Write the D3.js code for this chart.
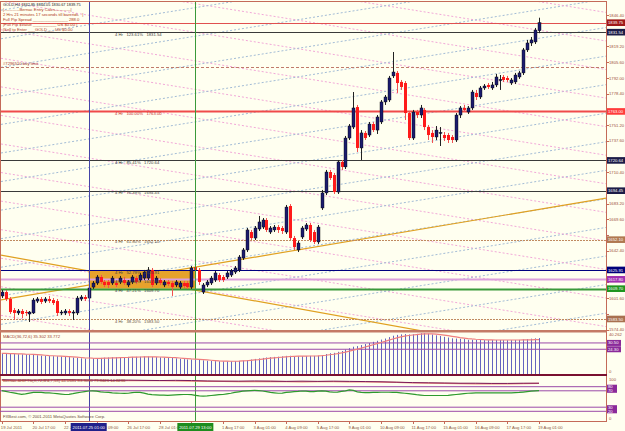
<!DOCTYPE html>
<html>
<head>
<meta charset="utf-8">
<script src="https://cdn.jsdelivr.net/npm/d3@7"></script>
<style>
body { margin: 0; background: #fffff0; }
svg { display: block; font-family: "Liberation Sans", Arial, sans-serif; }
text { font-size: 4.2px; }
</style>
</head>
<body>
<div id="chart"></div>
<script>
// GOLD H4 candles
const barOpen = [1603.4,1606.8,1600.8,1591.2,1588.7,1590.4,1589.5,1587.8,1588.7,1599.0,
1600.8,1599.0,1600.8,1599.9,1599.0,1588.7,1588.7,1590.4,1588.7,1588.7,
1600.8,1602.5,1601.6,1611.1,1614.6,1619.8,1615.5,1615.5,1614.6,1614.6,
1615.5,1617.2,1612.9,1615.5,1618.9,1617.2,1618.9,1618.9,1625.9,1614.6,
1617.2,1612.9,1615.5,1614.6,1612.9,1611.1,1614.6,1614.6,1611.1,1628.4,
1625.9,1606.8,1612.9,1614.6,1617.2,1621.5,1619.8,1619.8,1621.5,1624.1,
1625.9,1636.2,1643.2,1658.7,1653.5,1661.3,1663.0,1669.1,1658.7,1660.5,
1663.0,1662.2,1658.7,1681.2,1653.5,1643.2,1654.4,1661.3,1664.8,1658.7,
1650.1,1679.5,1692.5,1710.6,1708.0,1693.3,1719.3,1715.0,1740.0,1749.5,
1766.8,1731.4,1744.4,1742.6,1752.1,1746.9,1753.9,1771.2,1772.9,1793.7,
1796.3,1788.5,1787.6,1761.6,1740.0,1762.5,1759.9,1764.3,1749.5,1744.4,
1740.9,1744.4,1742.6,1742.6,1740.9,1738.3,1759.9,1766.0,1762.5,1766.0,
1779.0,1775.5,1783.3,1785.9,1783.3,1785.9,1790.2,1792.8,1791.9,1787.6,
1788.5,1792.8,1796.3,1816.2,1822.2,1823.1,1832.85];
const barHigh = [1608.5,1608.5,1602.5,1593.0,1592.1,1592.1,1591.2,1590.4,1601.6,1602.5,
1602.5,1602.5,1603.4,1601.6,1600.8,1591.2,1592.1,1592.1,1591.2,1603.4,
1604.2,1604.2,1612.0,1616.3,1621.5,1621.5,1617.2,1617.2,1620.7,1616.3,
1620.7,1619.8,1617.2,1621.5,1620.7,1623.3,1625.9,1628.4,1627.6,1620.7,
1618.9,1617.2,1617.2,1616.3,1617.2,1616.3,1616.3,1616.3,1629.3,1631.0,
1627.6,1614.6,1617.2,1620.7,1625.0,1623.3,1621.5,1625.0,1626.7,1629.3,
1638.8,1644.9,1662.2,1660.5,1663.9,1672.6,1670.8,1670.8,1663.9,1664.8,
1664.8,1663.9,1682.1,1682.9,1655.3,1650.9,1663.9,1666.5,1666.5,1660.5,
1664.8,1695.1,1712.4,1712.4,1709.8,1721.0,1721.0,1741.8,1752.1,1779.8,
1768.6,1746.9,1746.1,1753.9,1753.9,1759.9,1772.9,1777.2,1793.7,1814.4,
1798.0,1790.2,1789.3,1763.4,1764.3,1764.3,1768.6,1766.0,1751.3,1746.9,
1750.4,1749.5,1745.2,1744.4,1742.6,1761.6,1767.7,1768.6,1767.7,1781.6,
1781.6,1785.0,1786.7,1787.6,1788.5,1795.4,1794.5,1794.5,1793.7,1791.9,
1796.3,1798.0,1817.9,1824.8,1827.4,1835.2,1844.05];
const barLow = [1601.6,1599.0,1587.8,1582.6,1586.9,1584.3,1586.1,1580.9,1587.8,1597.3,
1596.4,1597.3,1597.3,1595.6,1586.1,1586.9,1586.9,1586.1,1582.6,1586.9,
1599.0,1599.0,1599.9,1609.4,1612.9,1613.7,1611.1,1610.3,1612.9,1611.1,
1613.7,1612.9,1611.1,1613.7,1613.7,1615.5,1617.2,1617.2,1611.1,1612.9,
1612.9,1611.1,1612.0,1603.4,1611.1,1609.4,1610.3,1609.4,1609.4,1624.1,
1612.9,1605.1,1611.1,1612.9,1615.5,1615.5,1615.5,1618.1,1619.8,1622.4,
1624.1,1634.5,1641.4,1651.8,1651.8,1659.6,1661.3,1658.7,1657.0,1658.7,
1657.9,1657.0,1657.0,1651.8,1643.2,1641.4,1652.7,1659.6,1650.1,1648.3,
1648.3,1677.8,1690.7,1703.7,1691.6,1691.6,1712.4,1713.2,1738.3,1747.8,
1727.9,1721.0,1738.3,1740.9,1745.2,1743.5,1752.1,1768.6,1771.2,1791.9,
1779.0,1781.6,1755.6,1738.3,1738.3,1757.3,1757.3,1746.9,1738.3,1735.7,
1738.3,1733.1,1737.4,1735.7,1735.7,1736.6,1757.3,1762.5,1760.8,1764.3,
1772.9,1773.8,1781.6,1782.4,1781.6,1784.1,1781.6,1788.5,1788.5,1785.9,
1786.7,1791.1,1794.5,1814.4,1819.6,1821.3,1830.67];
const barClose = [1606.8,1600.8,1589.5,1588.7,1590.4,1587.8,1588.7,1589.5,1599.9,1600.8,
1598.2,1600.8,1599.0,1597.3,1588.7,1589.5,1590.4,1588.7,1589.5,1601.6,
1602.5,1600.8,1610.3,1614.6,1619.8,1615.5,1612.9,1612.9,1618.9,1612.9,
1618.9,1614.6,1615.5,1619.8,1615.5,1621.5,1624.1,1625.9,1612.9,1618.9,
1614.6,1615.5,1613.7,1611.1,1615.5,1614.6,1612.0,1611.1,1627.6,1625.9,
1615.5,1612.9,1615.5,1618.9,1623.3,1617.2,1617.2,1623.3,1625.0,1627.6,
1637.1,1643.2,1660.5,1653.5,1662.2,1667.4,1669.1,1660.5,1662.2,1663.0,
1660.5,1659.6,1680.3,1653.5,1645.7,1649.2,1662.2,1664.8,1651.8,1650.1,
1663.0,1692.5,1710.6,1705.4,1693.3,1719.3,1715.0,1740.0,1750.4,1766.0,
1731.4,1744.4,1740.0,1752.1,1746.9,1758.2,1771.2,1775.5,1791.9,1797.1,
1787.6,1784.1,1761.6,1740.0,1762.5,1759.9,1766.0,1749.5,1742.6,1740.9,
1746.9,1744.8,1740.0,1738.3,1738.3,1759.9,1766.0,1764.3,1766.0,1779.8,
1775.5,1783.3,1785.0,1784.1,1785.9,1792.8,1790.6,1790.2,1790.2,1790.2,
1794.5,1796.3,1816.2,1822.2,1824.8,1833.4,1839.75];

// MACD(36,72,6): main drawn as histogram, signal as line
const macdMain = [20.2,20.0,19.8,19.6,19.4,19.3,19.2,19.0,18.8,18.4,
18.0,17.8,17.6,17.5,17.4,17.2,17.0,16.6,16.2,15.8,
15.4,15.2,15.2,15.4,15.6,15.8,16.0,16.2,16.4,16.5,
16.6,16.7,16.8,16.8,16.9,17.0,17.2,17.1,16.8,16.6,
16.4,16.2,16.0,15.7,15.4,15.0,14.6,14.3,14.2,14.4,
14.0,13.4,13.0,12.8,12.6,12.5,12.4,12.4,12.5,12.6,
12.8,13.1,13.6,14.2,14.8,15.3,15.8,16.2,16.5,16.8,
17.0,17.3,17.8,17.9,17.6,17.4,17.5,17.7,17.8,17.8,
17.9,18.6,19.6,20.4,20.8,21.8,22.6,24.0,25.4,26.8,
27.4,28.4,29.4,30.4,31.6,32.6,33.8,34.8,36.2,37.6,
38.4,38.9,39.2,38.8,39.0,39.4,40.0,40.1,39.6,38.8,
38.0,37.3,36.5,35.8,35.0,34.8,34.6,34.3,33.6,33.6,
33.4,33.4,33.3,33.2,33.3,33.4,33.4,33.3,33.2,33.3,
33.4,33.5,33.9,34.3,34.7,35.0,35.3];
const macdSignal = [20.3,20.2,20.1,20.0,19.8,19.7,19.5,19.4,19.2,19.0,
18.7,18.4,18.1,17.9,17.7,17.5,17.3,17.1,16.8,16.5,
16.2,15.9,15.7,15.5,15.4,15.4,15.5,15.6,15.8,15.9,
16.1,16.2,16.3,16.5,16.6,16.7,16.8,16.9,16.9,16.8,
16.7,16.6,16.4,16.2,16.0,15.7,15.4,15.1,14.8,14.6,
14.4,14.1,13.8,13.5,13.2,12.9,12.7,12.6,12.5,12.5,
12.6,12.8,13.0,13.4,13.8,14.2,14.7,15.1,15.5,15.9,
16.2,16.5,16.9,17.2,17.4,17.5,17.5,17.6,17.7,17.7,
17.8,18.0,18.4,18.9,19.4,20.0,20.7,21.5,22.4,23.4,
24.4,25.4,26.5,27.6,28.7,29.8,30.9,32.0,33.2,34.4,
35.5,36.4,37.2,37.8,38.3,38.7,39.1,39.4,39.5,39.4,
39.1,38.7,38.2,37.6,37.0,36.4,35.8,35.3,34.8,34.4,
34.1,33.9,33.7,33.6,33.5,33.4,33.4,33.4,33.4,33.4,
33.4,33.4,33.5,33.5,33.6,33.7,33.77];
const macdLevels = [30.5, 24.3];

// second window (0..100 oscillator)
const shiftGreen = [70.5,68.5,66.5,65.0,63.0,61.5,62.5,64.5,66.0,66.5,
66.0,65.0,65.0,64.0,63.0,62.0,61.0,61.5,63.0,65.0,
66.5,68.0,69.5,70.0,69.0,67.5,66.5,66.0,65.0,64.5,
64.0,63.5,64.0,65.5,66.5,66.0,64.5,62.0,60.5,60.0,
59.5,59.5,59.0,59.5,60.0,60.5,61.0,61.0,60.5,59.0,
57.5,57.0,57.5,58.5,59.5,60.5,61.0,62.5,64.0,66.0,
67.5,69.0,70.0,70.5,71.0,70.5,69.5,68.0,66.0,65.0,
64.0,64.5,66.0,67.0,68.0,68.5,69.5,69.0,68.0,68.0,
69.0,70.0,69.0,67.5,66.5,67.0,68.5,70.0,72.0,71.0,
67.5,66.0,65.5,65.5,66.0,66.0,66.5,66.5,66.5,66.0,
66.0,65.0,64.0,63.0,62.0,60.5,59.5,58.5,58.5,58.5,
58.5,58.5,58.5,59.0,60.0,61.0,62.0,63.0,64.0,64.5,
65.0,65.0,65.0,65.0,65.0,65.0,65.0,65.0,65.0,65.0,
65.5,66.0,67.0,68.0,69.0,70.0,70.5];
const shiftBars = [0,4,8,12,16,20,24,28,32,36,40,44,48,52,56,60,64,68,72,76,80,84,88,92,96,100,104,108,112,116,120,124,128,132,136];
const shiftRed = [95.5,95.0,95.5,96.0,96.0,95.5,95.5,95.0,95.0,95.0,94.5,94.0,93.5,93.0,93.0,92.5,92.5,93.0,92.5,92.0,92.5,92.5,92.0,91.5,91.0,90.5,89.5,88.5,88.0,87.5,87.0,87.5,87.0,87.5,88.0];
const shiftPurple = [97.0,96.5,96.0,96.5,97.0,96.5,96.0,95.5,96.0,95.5,95.0,95.5,95.0,94.0,93.5,93.5,94.0,93.5,93.0,93.5,93.0,93.5,93.0,92.5,92.0,91.0,90.0,89.5,89.0,88.5,88.5,88.0,88.0,88.5,88.5];
const shiftLevels = [80, 70, 30, 20];

// axis labels
const priceTicks = [1846.40,1832.80,1819.20,1805.60,1792.00,1778.40,1764.80,1751.20,1737.60,1724.00,1710.40,1696.80,1683.20,1669.60,1656.00,1642.40,1628.80,1615.20,1601.60,1588.00,1574.40];
const dateBars = [0,8,16,24,32,40,48,56,64,72,80,88,96,104,112,120,128,136];
const dateText = ["19 Jul 2011","20 Jul 17:00","22 Jul 01:00","25 Jul 09:00","26 Jul 17:00","28 Jul 01:00","29 Jul 09:00","1 Aug 17:00","3 Aug 01:00","4 Aug 09:00","5 Aug 17:00","9 Aug 01:00","10 Aug 09:00","11 Aug 17:00","15 Aug 01:00","16 Aug 09:00","17 Aug 17:00","19 Aug 01:00"];

// chart objects
const levelPrices = [1839.75, 1831.54, 1801.40, 1763.00, 1720.64, 1694.45, 1652.10, 1625.91, 1617.80, 1609.70, 1583.50];
const levelText = ["", "4 Hr   123.61%   1831.54", "#7296510 buy limit", "4 Hr   100.00%   1763.00", "4 Hr   85.41%   1720.64", "4 Hr   76.39%   1694.45", "4 Hr   61.80%   1652.10", "4 Hr   52.79%   1625.91", "4 Hr   50.00%   1617.80", "4 Hr   47.21%   1609.70", "4 Hr   38.20%   1583.50"];
const vlineBars = [22, 49];
const vlineText = ["2011.07.25 01:00", "2011.07.29 13:00"];
const trendBars = [[0, 136], [0, 100]];
const trendPrices = [[1600.2, 1678.3], [1638.6, 1577.1]];
const gannBar = 152.7;
const gannBlue = 1736.6;
const gannPink = 1725.3;
const gannStep = 24.7;
const gannSlope = 0.547;
const infoLines = ["|-----------Bernac Entry Calcs-----------|", "2 Hrs 21 minutes 17 seconds till barends   |", "Full Pip Spread _______________ 288.0", "|Full Pip $Value __________ US $0.00 |", "|Sell to Enter ___GOLD___ US $0.00"];

// styles for the objects above (same order as levelPrices)
const levelColor = ["#e05050", "#3a3a3a", "#c07a6a", "#f04a4a", "#3a3a3a", "#3a3a3a", "#c08a60", "#000080", "#dca0dc", "#3a9a3a", "#c08a60"];
const levelWidth = [1, 1, 1, 2, 1, 1, 1, 1, 2, 2, 1];
const levelDash = [null, null, "3,2", null, null, null, "2,1", null, null, null, "2,1"];
const labelColor = ["", "#404040", "#a83a2a", "#c03030", "#404040", "#404040", "#6a5040", "#404040", "#404040", "#404040", "#6a5040"];
const boxFill = ["#a01818", "#1c1c48", null, "#ff3b3b", "#1c1c48", "#1c1c48", "#b07850", "#00007a", "#a030b0", "#1e951e", "#a87050"];
const vlineColor = ["#4444a8", "#3a9a3a"];
const vboxFill = ["#20208a", "#1e8c1e"];

let w = 625;
let h = 431;
let plotL = 1;
let plotR = 606;

const svg = d3.select("#chart").
append("svg").
attr("width", w).
attr("height", h);

svg.append("rect").attr("width", w).attr("height", h).attr("fill", "#fffff0");

const defs = svg.append("defs");
defs.append("clipPath").attr("id", "mainClip").
append("rect").attr("x", plotL).attr("y", 1).attr("width", plotR - plotL).attr("height", 329);

// scales for all three windows
const xScale = d3.scaleLinear().domain([0, 136]).range([1.8, 539]);
const yPrice = d3.scaleLinear().domain([1574.4, 1846.4]).range([329.5, 15]);
const yMacd = d3.scaleLinear().domain([0, 40.262]).range([374, 333]);
const yOsc = d3.scaleLinear().domain([0, 100]).range([419.5, 378.5]);

const main = svg.append("g").attr("clip-path", "url(#mainClip)");

// gann style dotted grid
let b0 = xScale.invert(plotL);
let b1 = xScale.invert(plotR);
for (let n = -25; n <= 25; n++) {
  main.append("line").
  attr("x1", xScale(b0)).attr("y1", yPrice(gannBlue + n * gannStep + gannSlope * (b0 - gannBar))).
  attr("x2", xScale(b1)).attr("y2", yPrice(gannBlue + n * gannStep + gannSlope * (b1 - gannBar))).
  attr("stroke", "#a3bcd6").attr("stroke-width", 1).attr("stroke-dasharray", "2,2");
  main.append("line").
  attr("x1", xScale(b0)).attr("y1", yPrice(gannPink + n * gannStep - gannSlope * (b0 - gannBar))).
  attr("x2", xScale(b1)).attr("y2", yPrice(gannPink + n * gannStep - gannSlope * (b1 - gannBar))).
  attr("stroke", "#f2a8d8").attr("stroke-width", 1).attr("stroke-dasharray", "2,2");
}

// trend lines (rays both ways)
trendBars.forEach((tb, k) => {
  let tp = trendPrices[k];
  let slope = (tp[1] - tp[0]) / (tb[1] - tb[0]);
  main.append("line").
  attr("x1", xScale(b0)).attr("y1", yPrice(tp[0] + slope * (b0 - tb[0]))).
  attr("x2", xScale(b1)).attr("y2", yPrice(tp[0] + slope * (b1 - tb[0]))).
  attr("stroke", "#e0a020").attr("stroke-width", 1.2);
});

// the orange box between the two vertical lines
main.append("rect").
attr("x", xScale(vlineBars[0])).
attr("y", yPrice(levelPrices[7])).
attr("width", xScale(vlineBars[1]) - xScale(vlineBars[0])).
attr("height", yPrice(levelPrices[9]) - yPrice(levelPrices[7])).
attr("fill", "#e6a22c");

// horizontal levels
levelPrices.forEach((p, k) => {
  main.append("line").
  attr("x1", plotL).attr("x2", plotR).
  attr("y1", Math.round(yPrice(p)) + 0.5).attr("y2", Math.round(yPrice(p)) + 0.5).
  attr("stroke", levelColor[k]).
  attr("stroke-width", levelWidth[k]).
  attr("stroke-dasharray", levelDash[k]);
});

// vertical lines through every window
vlineBars.forEach((b, k) => {
  svg.append("line").
  attr("x1", Math.round(xScale(b)) + 0.5).attr("x2", Math.round(xScale(b)) + 0.5).
  attr("y1", 1).attr("y2", 421).
  attr("stroke", vlineColor[k]).attr("stroke-width", 1);
});

// candles
let idx = d3.range(barOpen.length);
main.selectAll(".wick").
data(idx).
enter().
append("line").
attr("class", "wick").
attr("x1", i => Math.round(xScale(i)) + 0.5).
attr("x2", i => Math.round(xScale(i)) + 0.5).
attr("y1", i => yPrice(barHigh[i])).
attr("y2", i => yPrice(barLow[i])).
attr("stroke", i => barClose[i] >= barOpen[i] ? "#222" : "#f05050").
attr("stroke-width", 1);

main.selectAll(".body").
data(idx).
enter().
append("rect").
attr("class", "body").
attr("x", i => Math.round(xScale(i)) - 1).
attr("width", 3).
attr("y", i => yPrice(Math.max(barOpen[i], barClose[i]))).
attr("height", i => Math.max(1, Math.abs(yPrice(barOpen[i]) - yPrice(barClose[i])))).
attr("fill", i => barClose[i] >= barOpen[i] ? "#1b1b6e" : "#ff1a1a").
attr("stroke", i => barClose[i] >= barOpen[i] ? "#000" : "none").
attr("stroke-width", 0.4);

// labels of the levels
levelText.forEach((t, k) => {
  if (t === "") return;
  svg.append("text").
  attr("x", k === 2 ? 3 : 115).
  attr("y", yPrice(levelPrices[k]) + (k === 2 ? -2 : 3.6)).
  attr("fill", labelColor[k]).
  attr("xml:space", "preserve").
  text(t);
});

// info panel at top left
svg.append("text").attr("x", 3).attr("y", 5.5).attr("fill", "#202020").style("font-size", "3.9px").text("GOLD,H4  1832.85 1844.05 1830.67 1839.75");
infoLines.forEach((t, k) => {
  svg.append("text").
  attr("x", 3).attr("y", 11 + k * 5.1).
  attr("fill", "#b03a20").
  attr("xml:space", "preserve").
  text(t);
});

// frames and panel separators
svg.append("line").attr("x1", plotR + 0.5).attr("x2", plotR + 0.5).attr("y1", 1).attr("y2", 422).attr("stroke", "#c46a58").attr("stroke-width", 1);
svg.append("line").attr("x1", 0).attr("x2", plotR).attr("y1", 1.5).attr("y2", 1.5).attr("stroke", "#c46a58");
svg.append("line").attr("x1", 0.5).attr("x2", 0.5).attr("y1", 1).attr("y2", 421).attr("stroke", "#c46a58");
svg.append("rect").attr("x", 0).attr("y", 330).attr("width", plotR + 1).attr("height", 2.5).attr("fill", "#c47a66");
svg.append("rect").attr("x", 0).attr("y", 374).attr("width", plotR + 1).attr("height", 2).attr("fill", "#7a1030");
svg.append("line").attr("x1", 0).attr("x2", plotR + 1).attr("y1", 421.5).attr("y2", 421.5).attr("stroke", "#c46a58");

// price axis: plain ticks, hidden where a boxed level label sits
let boxYs = levelPrices.filter((p, k) => boxFill[k]).map(p => yPrice(p));
let shownTicks = priceTicks.filter(t => boxYs.every(y => Math.abs(yPrice(t) - y) > 6));
svg.selectAll(".ptick").
data(shownTicks).
enter().
append("text").
attr("class", "ptick").
attr("x", 609).
attr("y", d => yPrice(d) + 1.6).
attr("fill", "#a0503c").
text(d => d.toFixed(2));
svg.selectAll(".pmark").
data(priceTicks).
enter().
append("line").
attr("x1", plotR).attr("x2", plotR + 3).
attr("y1", d => Math.round(yPrice(d)) + 0.5).attr("y2", d => Math.round(yPrice(d)) + 0.5).
attr("stroke", "#c46a58");

levelPrices.forEach((p, k) => {
  if (!boxFill[k]) return;
  svg.append("rect").attr("x", plotR + 1).attr("y", yPrice(p) - 3.3).attr("width", 18).attr("height", 6.6).attr("fill", boxFill[k]);
  svg.append("text").attr("x", plotR + 2).attr("y", yPrice(p) + 1.6).attr("fill", "#fff").text(p.toFixed(2));
});

// MACD window
svg.selectAll(".hist").
data(idx).
enter().
append("line").
attr("class", "hist").
attr("x1", i => Math.round(xScale(i)) + 0.5).
attr("x2", i => Math.round(xScale(i)) + 0.5).
attr("y1", yMacd(0)).
attr("y2", i => yMacd(macdMain[i])).
attr("stroke", "#6464bf").
attr("stroke-width", 1);

macdLevels.forEach(v => {
  svg.append("line").attr("x1", 0).attr("x2", plotR).attr("y1", yMacd(v)).attr("y2", yMacd(v)).attr("stroke", "#9b4aa8").attr("stroke-width", 1);
  svg.append("rect").attr("x", plotR + 1).attr("y", yMacd(v) - 3).attr("width", 14).attr("height", 6).attr("fill", "#8a2a9a");
  svg.append("text").attr("x", plotR + 2).attr("y", yMacd(v) + 1.5).attr("fill", "#fff").text(v.toFixed(2));
});

svg.append("path").
datum(idx).
attr("fill", "none").
attr("stroke", "#f07f7f").
attr("stroke-width", 1.2).
attr("d", d3.line().x(i => xScale(i)).y(i => yMacd(macdSignal[i])));

svg.append("text").attr("x", 3).attr("y", 338).attr("fill", "#9a4030").text("MACD(36,72,6) 35.302 33.772");
svg.append("text").attr("x", 609).attr("y", 336).attr("fill", "#a0503c").text("40.262");
svg.append("text").attr("x", 609).attr("y", 373).attr("fill", "#a0503c").text("0");

// second window
shiftLevels.forEach(v => {
  svg.append("line").attr("x1", 0).attr("x2", plotR).attr("y1", yOsc(v)).attr("y2", yOsc(v)).attr("stroke", "#9b4aa8").attr("stroke-width", 1);
});
[[shiftLevels[0], shiftLevels[1]], [shiftLevels[2], shiftLevels[3]]].forEach(pair => {
  svg.append("rect").attr("x", plotR + 1).attr("y", yOsc(pair[0]) - 2).attr("width", 10).attr("height", yOsc(pair[1]) - yOsc(pair[0]) + 4).attr("fill", "#8a2a9a");
  svg.append("text").attr("x", plotR + 2).attr("y", yOsc(pair[0]) + 1.5).attr("fill", "#fff").text(pair[0]);
  svg.append("text").attr("x", plotR + 2).attr("y", yOsc(pair[1]) + 1.5).attr("fill", "#fff").text(pair[1]);
});

svg.append("path").
datum(shiftBars.map((b, k) => [b, shiftRed[k]])).
attr("fill", "none").attr("stroke", "#f08a7a").attr("stroke-width", 1.2).
attr("d", d3.line().x(d => xScale(d[0])).y(d => yOsc(d[1])));
svg.append("path").
datum(shiftBars.map((b, k) => [b, shiftPurple[k]])).
attr("fill", "none").attr("stroke", "#7a1a5a").attr("stroke-width", 1).
attr("d", d3.line().x(d => xScale(d[0])).y(d => yOsc(d[1])));
svg.append("path").
datum(idx).
attr("fill", "none").attr("stroke", "#2e9a2e").attr("stroke-width", 1.2).
attr("d", d3.line().x(i => xScale(i)).y(i => yOsc(shiftGreen[i])));

svg.append("text").attr("x", 3).attr("y", 382).attr("fill", "#9a4030").text("Bernac SHIFTS(X,72,B'd,7,58) 44.0681 83.3030 79.8423 14.8236");
svg.append("text").attr("x", 609).attr("y", 381).attr("fill", "#a0503c").text("100");
svg.append("text").attr("x", 609).attr("y", 420).attr("fill", "#a0503c").text("0");
svg.append("text").attr("x", 3).attr("y", 418).attr("fill", "#6a4a3a").text("FXBest.com, © 2001-2011 MetaQuotes Software Corp.");

// time axis: a label fully under a line's date box is not drawn
let boxSpans = vlineBars.map(b => [xScale(b) - 18, xScale(b) + 18]);
let shownDates = dateBars.filter((b, k) => !boxSpans.some(s => xScale(b) - 1 >= s[0] && xScale(b) + dateText[k].length * 2.1 <= s[1] + 6));
svg.selectAll(".dlab").
data(shownDates).
enter().
append("text").
attr("class", "dlab").
attr("x", b => xScale(b) - 1).
attr("y", 429).
attr("fill", "#8a5a44").
text(b => dateText[dateBars.indexOf(b)]);
svg.selectAll(".dmark").
data(dateBars).
enter().
append("line").
attr("x1", b => Math.round(xScale(b)) + 0.5).attr("x2", b => Math.round(xScale(b)) + 0.5).
attr("y1", 421).attr("y2", 424).
attr("stroke", "#c46a58");

vlineBars.forEach((b, k) => {
  svg.append("rect").attr("x", xScale(b) - 18).attr("y", 423).attr("width", 36).attr("height", 8).attr("fill", vboxFill[k]);
  svg.append("text").attr("x", xScale(b)).attr("y", 429).attr("text-anchor", "middle").attr("fill", "#fff").text(vlineText[k]);
});
</script>
</body>
</html>
